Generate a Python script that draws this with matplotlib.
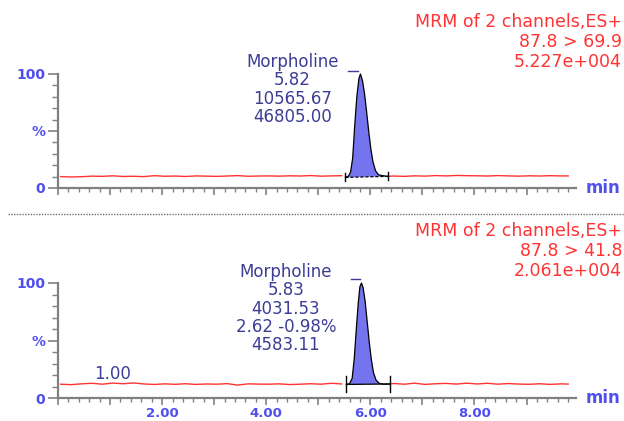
import numpy as np
import matplotlib
matplotlib.use("Agg")
import matplotlib.pyplot as plt
from matplotlib.ticker import MultipleLocator, FuncFormatter
from matplotlib.lines import Line2D

plt.rcParams['font.family'] = ['DejaVu Sans']

# ---- data (time in min, intensity in %) ----
top_base_t1 = [0.05, 0.25, 0.45, 0.65, 0.85, 1.05, 1.25, 1.45, 1.65, 1.85, 2.05, 2.25, 2.45,
               2.65, 2.85, 3.05, 3.25, 3.45, 3.65, 3.85, 4.05, 4.25, 4.45, 4.65, 4.85, 5.05,
               5.25, 5.45]
top_base_y1 = [10.0, 9.7, 9.9, 10.4, 10.2, 10.7, 10.1, 10.3, 10.0, 10.8, 10.3, 10.5, 10.1,
               10.6, 10.4, 10.2, 10.5, 10.9, 10.3, 10.5, 10.6, 10.4, 10.7, 10.5, 10.9, 10.4,
               10.6, 10.8]
top_peak_t = [5.52, 5.58, 5.62, 5.66, 5.70, 5.74, 5.78, 5.81, 5.85, 5.89, 5.93, 5.97, 6.01,
              6.05, 6.10, 6.16, 6.24, 6.33]
top_peak_y = [9.3, 10.5, 14.0, 26.0, 55.0, 80.0, 96.0, 100.0, 94.0, 82.0, 66.0, 49.0, 34.0,
              23.0, 15.0, 11.5, 10.8, 10.2]
top_base_t2 = [6.33, 6.45, 6.65, 6.85, 7.05, 7.25, 7.45, 7.65, 7.85, 8.05, 8.25, 8.45, 8.65,
               8.85, 9.05, 9.25, 9.45, 9.65, 9.80]
top_base_y2 = [10.2, 10.5, 10.2, 10.7, 10.4, 10.9, 10.6, 11.0, 10.8, 10.7, 10.5, 10.9, 10.6,
               10.4, 10.7, 10.5, 10.8, 10.6, 10.6]

bot_base_t1 = [0.05, 0.25, 0.45, 0.65, 0.85, 1.05, 1.25, 1.45, 1.65, 1.85, 2.05, 2.25, 2.45,
               2.65, 2.85, 3.05, 3.25, 3.45, 3.65, 3.85, 4.05, 4.25, 4.45, 4.65, 4.85, 5.05,
               5.25, 5.45]
bot_base_y1 = [12.0, 11.6, 12.3, 12.8, 12.0, 13.0, 12.4, 13.1, 12.2, 11.8, 12.3, 11.9, 12.4,
               11.8, 12.2, 12.0, 12.5, 11.2, 12.3, 12.1, 12.0, 12.3, 11.7, 12.0, 12.4, 12.0,
               12.8, 12.2]
bot_peak_t = [5.54, 5.60, 5.65, 5.69, 5.73, 5.77, 5.80, 5.83, 5.86, 5.90, 5.94, 5.98, 6.02,
              6.06, 6.11, 6.17, 6.25, 6.38]
bot_peak_y = [11.8, 12.5, 17.0, 34.0, 60.0, 84.0, 97.0, 100.0, 96.0, 84.0, 66.0, 48.0, 33.0,
              22.0, 15.5, 12.8, 12.0, 12.2]
bot_base_t2 = [6.38, 6.45, 6.65, 6.85, 7.05, 7.25, 7.45, 7.65, 7.85, 8.05, 8.25, 8.45, 8.65,
               8.85, 9.05, 9.25, 9.45, 9.65, 9.80]
bot_base_y2 = [12.2, 12.6, 12.0, 12.9, 11.8, 12.4, 12.7, 12.1, 12.9, 12.2, 12.8, 12.0, 12.6,
               12.1, 11.9, 12.4, 11.8, 12.3, 12.1]

top_label = ["Morpholine", "5.82", "10565.67", "46805.00"]
bot_label = ["Morpholine", "5.83", "4031.53", "2.62 -0.98%", "4583.11"]
top_header = ["MRM of 2 channels,ES+", "87.8 > 69.9", "5.227e+004"]
bot_header = ["MRM of 2 channels,ES+", "87.8 > 41.8", "2.061e+004"]

RED = "#ff3333"
TICKBLUE = "#4f4ff0"
NAVY = "#3d3d96"
FILL = "#7474ee"
GRAY = "#808080"

W, H = 624, 421
fig = plt.figure(figsize=(6.24, 4.21), dpi=100)
ax_top = fig.add_axes([58 / W, 1 - 188 / H, (576 - 58) / W, (188 - 74) / H])
ax_bot = fig.add_axes([58 / W, 1 - 398 / H, (576 - 58) / W, (398 - 283) / H])


def xfmt(v, pos):
    i = int(round(v))
    if i in (2, 4, 6, 8):
        return "%.2f" % v
    return ""


def style(ax, show_xlabels):
    ax.set_xlim(0, 9.95)
    ax.set_ylim(0, 100)
    for s in ("top", "right"):
        ax.spines[s].set_visible(False)
    for s in ("left", "bottom"):
        ax.spines[s].set_color(GRAY)
        ax.spines[s].set_linewidth(1.6)
    ax.xaxis.set_major_locator(MultipleLocator(1.0))
    ax.xaxis.set_minor_locator(MultipleLocator(0.2))
    ax.yaxis.set_major_locator(MultipleLocator(50))
    ax.yaxis.set_minor_locator(MultipleLocator(10))
    ax.set_yticks([0, 50, 100])
    ax.set_yticklabels(["0", "%", "100"])
    ax.tick_params(axis="y", which="major", length=7, width=1.2, color=GRAY, pad=2,
                   labelsize=10, labelcolor=TICKBLUE)
    ax.tick_params(axis="y", which="minor", length=4.5, width=1.0, color=GRAY)
    ax.tick_params(axis="x", which="major", length=5, width=1.2, color=GRAY, pad=1.5,
                   labelsize=9.5, labelcolor=TICKBLUE)
    ax.tick_params(axis="x", which="minor", length=3, width=1.0, color=GRAY)
    for lab in ax.get_yticklabels():
        lab.set_fontweight("bold")
    if show_xlabels:
        ax.xaxis.set_major_formatter(FuncFormatter(xfmt))
        for lab in ax.get_xticklabels():
            lab.set_fontweight("bold")
    else:
        ax.xaxis.set_major_formatter(FuncFormatter(lambda v, p: ""))
    ax.text(1.018, 0.0, "min", transform=ax.transAxes, ha="left", va="center",
            fontsize=12, fontweight="bold", color=TICKBLUE, clip_on=False)


def draw_trace(ax, t1, y1, pt, py, t2, y2, dashed_base, mark_h):
    ax.plot(t1, y1, color=RED, lw=1.0)
    ax.plot(t2, y2, color=RED, lw=1.0)
    ax.fill(pt, py, color=FILL, lw=0, clip_on=False)
    ax.plot(pt, py, color="black", lw=0.9, clip_on=False)
    ax.plot([pt[0], pt[-1]], [py[0], py[-1]], color="black", lw=0.9,
            ls=(0, (2.5, 1.5)) if dashed_base else "-")
    for t, y in ((pt[0], py[0]), (pt[-1], py[-1])):
        ax.plot([t, t], [y - mark_h, y + mark_h], color="black", lw=1.0)


style(ax_top, False)
style(ax_bot, True)

draw_trace(ax_top, top_base_t1, top_base_y1, top_peak_t, top_peak_y,
           top_base_t2, top_base_y2, True, 3.5)
draw_trace(ax_bot, bot_base_t1, bot_base_y1, bot_peak_t, bot_peak_y,
           bot_base_t2, bot_base_y2, False, 7)

# peak labels
for ax, lines, x0, y0, lead in ((ax_top, top_label, 4.5, 110.5, (5.57, 5.77, 102.5)),
                                (ax_bot, bot_label, 4.38, 109.5, (5.62, 5.80, 103.5))):
    for i, s in enumerate(lines):
        ax.annotate(s, xy=(x0, y0), xytext=(0, -13.2 * i), textcoords="offset points",
                    ha="center", va="center", fontsize=12, color=NAVY,
                    annotation_clip=False)
    ax.plot([lead[0], lead[1]], [lead[2], lead[2]], color=NAVY, lw=1.0, clip_on=False)

ax_bot.text(1.04, 21, "1.00", ha="center", va="center", fontsize=12, color=NAVY)

# channel headers (red, right aligned)
for lines, ytop in ((top_header, 22), (bot_header, 231)):
    for i, s in enumerate(lines):
        fig.text(622 / W, 1 - (ytop + 20 * i) / H, s, ha="right", va="center",
                 fontsize=12.5, color=RED)

# dotted separator between the two traces
fig.add_artist(Line2D([8 / W, 1.0], [1 - 214 / H, 1 - 214 / H], transform=fig.transFigure,
                      color="#707070", lw=1.0, ls=(0, (1, 1))))

fig.savefig("out.png", dpi=100)
